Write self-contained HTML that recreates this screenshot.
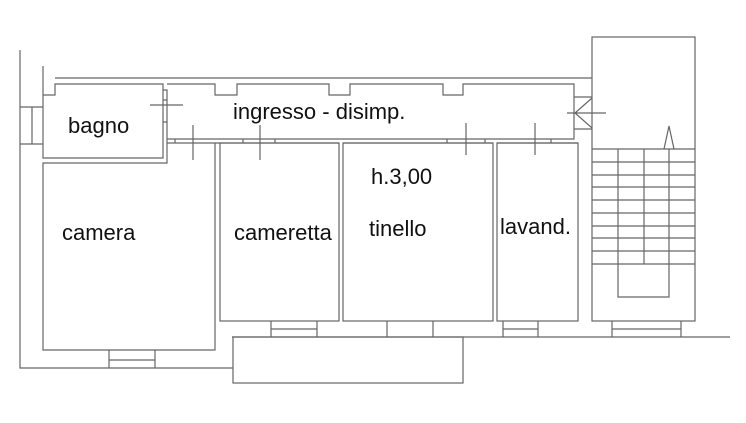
<!DOCTYPE html>
<html><head><style>
html,body{margin:0;padding:0;background:#fff;width:746px;height:423px;overflow:hidden}
text{font-family:"Liberation Sans",sans-serif;font-size:22px;fill:#111}
</style></head><body>
<svg width="746" height="423" viewBox="0 0 746 423" xmlns="http://www.w3.org/2000/svg">
<g fill="none" stroke="#666" stroke-width="1.2">
<path d="M20 50 V368 H233"/>
<path d="M43 66 V95"/>
<path d="M20 107 H43 M20 144 H43 M32 107 V144"/>
<path d="M55 78 H592"/>
<path d="M43 95 H55 V84 H163 V158 H43 Z"/>
<path d="M163 90 H167 V163 H43 V350 H215 V143"/>
<path d="M163 100 H167 M163 122 H167"/>
<path d="M167 84 H215 V95 H237 V84 H329 V95 H350 V84 H443 V95 H463 V84 H574 V139 H167"/>
<path d="M167 143 H215"/>
<path d="M215 143 H339 M343 143 H493 M497 143 H578"/>
<path d="M175 139 V143 M243 139 V143 M275 139 V143 M447 139 V143 M485 139 V143 M551 139 V143"/>
<rect x="220" y="143" width="119" height="178"/>
<rect x="343" y="143" width="150" height="178"/>
<rect x="497" y="143" width="81" height="178"/>
<path d="M232 337 H730"/>
<rect x="233" y="337" width="230" height="46"/>
<path d="M109 350 V368 M155 350 V368 M109 360 H155"/>
<path d="M271 321 V337 M317 321 V337 M271 329 H317"/>
<path d="M387 321 V337 M433 321 V337"/>
<path d="M503 321 V337 M538 321 V337 M503 329 H538"/>
<path d="M612 321 V337 M681 321 V337 M612 329 H681"/>
<rect x="592" y="37" width="103" height="284"/>
<path d="M574 97 H592 M574 129 H592"/>
<path d="M592 149 H695 M592 162 H695 M592 175 H695 M592 187 H695 M592 200 H695 M592 213 H695 M592 226 H695 M592 238 H695 M592 251 H695 M592 264 H695"/>
<path d="M618 149 V297 H669 V149 M644 149 V264"/>
<path d="M664 149 L669 126 L674 149"/>
<path d="M567 113 H606 M592 98 L575 113 L592 128"/>
<path d="M150 105 H183 M193 125 V160 M260 125 V160 M466 123 V155 M535 123 V155"/>
</g>
<text x="68" y="133">bagno</text>
<text x="233" y="119">ingresso - disimp.</text>
<text x="371" y="184">h.3,00</text>
<text x="62" y="240">camera</text>
<text x="234" y="240">cameretta</text>
<text x="369" y="236">tinello</text>
<text x="500" y="234">lavand.</text>
</svg>
</body></html>
